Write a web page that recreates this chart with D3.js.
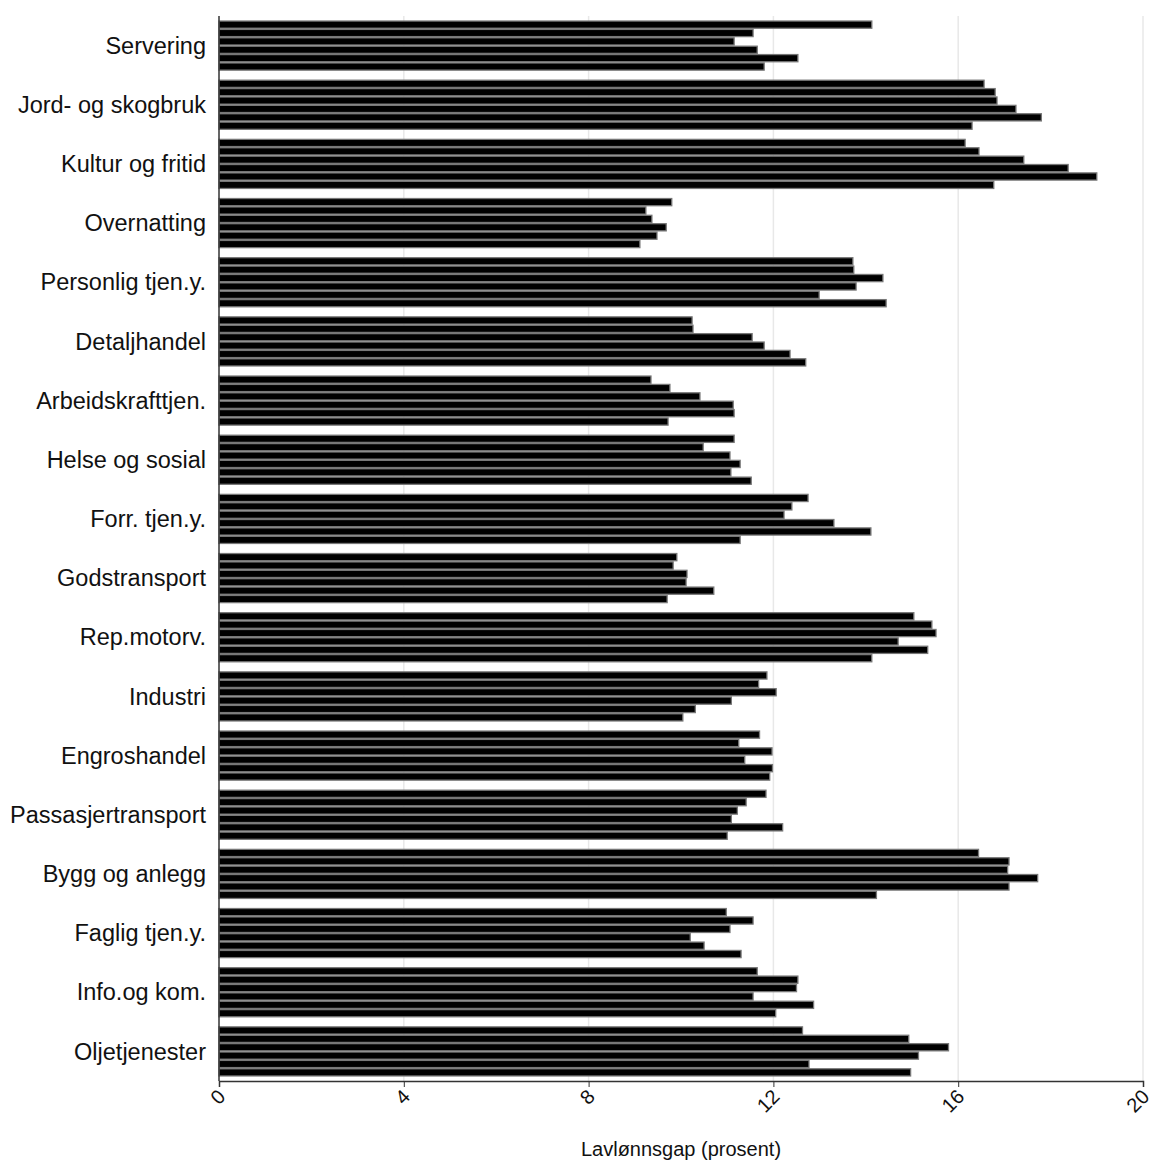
<!DOCTYPE html>
<html>
<head>
<meta charset="utf-8">
<script src="https://cdn.jsdelivr.net/npm/d3@7"></script>
<style>
  body { margin: 0; background: #fff; }
  text { font-family: "Liberation Sans", Arial, sans-serif; }
</style>
</head>
<body>
<svg id="chart" width="1150" height="1162"></svg>
<script>
const categories = ["Servering", "Jord- og skogbruk", "Kultur og fritid", "Overnatting",
  "Personlig tjen.y.", "Detaljhandel", "Arbeidskrafttjen.", "Helse og sosial",
  "Forr. tjen.y.", "Godstransport", "Rep.motorv.", "Industri", "Engroshandel",
  "Passasjertransport", "Bygg og anlegg", "Faglig tjen.y.", "Info.og kom.", "Oljetjenester"];

const series = ["s1", "s2", "s3", "s4", "s5", "s6"];

const values = [
  [14.13, 11.56, 11.15, 11.65, 12.53, 11.8],
  [16.56, 16.8, 16.84, 17.25, 17.8, 16.3],
  [16.15, 16.45, 17.42, 18.38, 19.0, 16.77],
  [9.8, 9.24, 9.37, 9.68, 9.48, 9.11],
  [13.72, 13.74, 14.37, 13.79, 12.99, 14.44],
  [10.24, 10.26, 11.54, 11.8, 12.36, 12.7],
  [9.35, 9.76, 10.41, 11.13, 11.15, 9.72],
  [11.15, 10.48, 11.06, 11.28, 11.08, 11.52],
  [12.75, 12.4, 12.23, 13.31, 14.11, 11.28],
  [9.91, 9.83, 10.13, 10.11, 10.71, 9.7],
  [15.04, 15.43, 15.52, 14.7, 15.34, 14.13],
  [11.86, 11.68, 12.06, 11.09, 10.31, 10.04],
  [11.7, 11.25, 11.97, 11.38, 11.98, 11.92],
  [11.84, 11.41, 11.22, 11.09, 12.2, 11.0],
  [16.44, 17.1, 17.07, 17.72, 17.1, 14.23],
  [10.98, 11.56, 11.06, 10.2, 10.5, 11.3],
  [11.65, 12.53, 12.5, 11.56, 12.87, 12.05],
  [12.63, 14.93, 15.79, 15.14, 12.77, 14.97]
];

const xTicks = [0, 4, 8, 12, 16, 20];

const margin = { left: 219, right: 7, top: 16, bottom: 81 };
const width = 1150, height = 1162;
const svg = d3.select("#chart");

const x = d3.scaleLinear().domain([0, 20]).range([margin.left, width - margin.right]);
const y = d3.scaleBand().domain(categories)
  .range([margin.top, height - margin.bottom])
  .paddingInner(0.15).paddingOuter(0.075);
const ySub = d3.scaleBand().domain(series).range([0, y.bandwidth()]);

// grid
svg.append("g")
  .selectAll("line")
  .data(xTicks.slice(1))
  .enter()
  .append("line")
  .attr("x1", (d) => x(d))
  .attr("x2", (d) => x(d))
  .attr("y1", margin.top)
  .attr("y2", height - margin.bottom)
  .attr("stroke", "#e8e8e8")
  .attr("stroke-width", 1.5);

// bars
const groups = svg.append("g")
  .selectAll("g.group")
  .data(values)
  .enter()
  .append("g")
  .attr("class", "group")
  .attr("transform", (d, i) => `translate(0,${y(categories[i])})`);

groups.selectAll("rect")
  .data((d) => d)
  .enter()
  .append("rect")
  .attr("x", x(0))
  .attr("y", (d, i) => ySub(series[i]) + 0.6)
  .attr("width", (d) => x(d) - x(0))
  .attr("height", ySub.bandwidth() - 1.2)
  .attr("fill", "#000")
  .attr("stroke", "#777")
  .attr("stroke-width", 1.3);

// y labels
svg.append("g")
  .selectAll("text")
  .data(categories)
  .enter()
  .append("text")
  .attr("x", margin.left - 13)
  .attr("y", (d) => y(d) + y.bandwidth() / 2)
  .attr("dy", "0.35em")
  .attr("text-anchor", "end")
  .style("font-size", "23.5px")
  .style("fill", "#111")
  .text((d) => d);

// axes lines
svg.append("line")
  .attr("x1", x(0)).attr("x2", x(0))
  .attr("y1", margin.top).attr("y2", height - margin.bottom)
  .attr("stroke", "#333").attr("stroke-width", 1.5);

const xAxis = svg.append("g")
  .attr("transform", `translate(0,${height - margin.bottom})`)
  .call(d3.axisBottom(x).tickValues(xTicks).tickSize(6).tickFormat(d3.format("d")));
xAxis.select(".domain").attr("stroke", "#333").attr("stroke-width", 1.5);
xAxis.selectAll(".tick line").attr("stroke", "#333");
xAxis.selectAll(".tick text")
  .style("font-size", "20px")
  .style("fill", "#111")
  .attr("text-anchor", "end")
  .attr("x", 0)
  .attr("y", 0)
  .attr("dy", 0)
  .attr("transform", "translate(7,17) rotate(-45)");

svg.append("text")
  .attr("x", (x(0) + x(20)) / 2)
  .attr("y", 1156)
  .attr("text-anchor", "middle")
  .style("font-size", "20px")
  .style("fill", "#111")
  .text("Lavlønnsgap (prosent)");
</script>
</body>
</html>
